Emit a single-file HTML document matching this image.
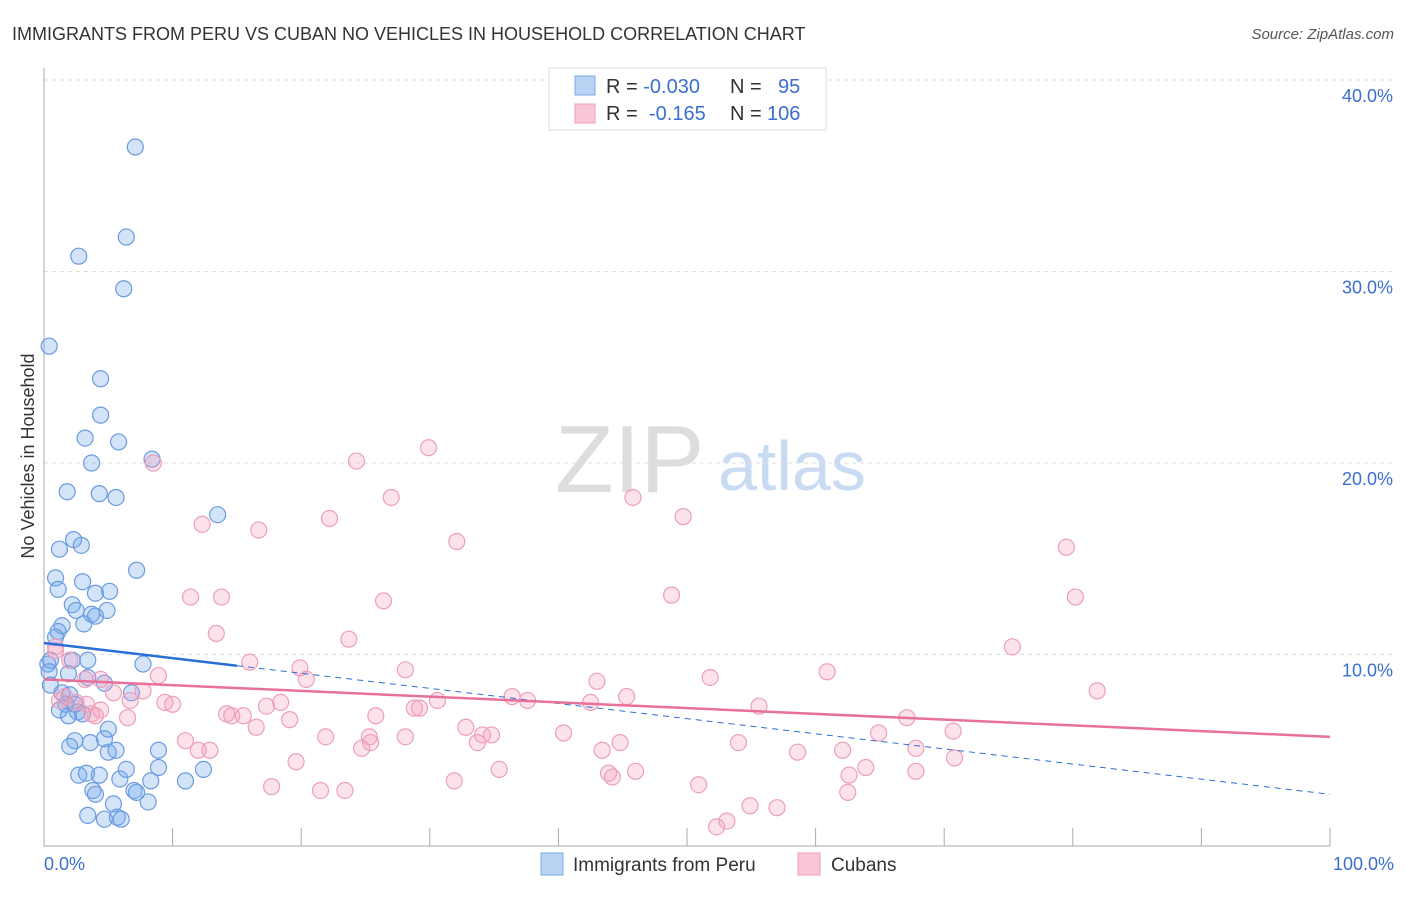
<!DOCTYPE html>
<html><head><meta charset="utf-8"><style>
body{margin:0;background:#fff;font-family:"Liberation Sans",sans-serif;}
svg text{font-family:"Liberation Sans",sans-serif;}
</style></head><body>
<svg id="chart" width="1406" height="892">
<text x="12" y="40" font-size="18" fill="#333">IMMIGRANTS FROM PERU VS CUBAN NO VEHICLES IN HOUSEHOLD CORRELATION CHART</text>
<text x="1394" y="39" font-size="15" fill="#555" text-anchor="end" font-style="italic">Source: ZipAtlas.com</text>
<text x="555" y="492" font-size="96" fill="#ddd" font-family="Liberation Serif">ZIP</text>
<text x="718" y="490" font-size="70" fill="#c9daf3">atlas</text>
<g id="grid"></g><g id="axes"></g><g id="pts"></g><g id="lines"></g>
<text transform="translate(34,456) rotate(-90)" font-size="18" fill="#333" text-anchor="middle">No Vehicles in Household</text>
<text x="44" y="870" font-size="18" fill="#3a6fd0">0.0%</text>
<text x="1394" y="870" font-size="18" fill="#3a6fd0" text-anchor="end">100.0%</text>
<g>
<rect x="549" y="68" width="277" height="62" fill="#fff" stroke="#ddd"/>
<rect x="575" y="76" width="20" height="19" fill="#b9d3f5" stroke="#7fa9e3"/>
<rect x="575" y="104" width="20" height="19" fill="#f9c6d6" stroke="#ee9fb8"/>
<text x="606" y="93" font-size="20" fill="#333">R = <tspan fill="#3a6fd0">-0.030</tspan><tspan x="730">N =</tspan><tspan x="778" fill="#3a6fd0">95</tspan></text>
<text x="606" y="120" font-size="20" fill="#333">R = <tspan x="649" fill="#3a6fd0">-0.165</tspan><tspan x="730">N =</tspan><tspan x="767" fill="#3a6fd0">106</tspan></text>
</g>
<g><rect x="541" y="853" width="22" height="22" fill="#b9d3f5" stroke="#7fa9e3"/><text x="573" y="871" font-size="19" fill="#333">Immigrants from Peru</text></g>
<g><rect x="798" y="853" width="22" height="22" fill="#f9c6d6" stroke="#ee9fb8"/><text x="831" y="871" font-size="19" fill="#333">Cubans</text></g>
</svg>
<script>
const yTicks=[10,20,30,40];
const yTickLabels=["10.0%","20.0%","30.0%","40.0%"];
const xTicks=[10,20,30,40,50,60,70,80,90,100];
const peruX=[7.1,6.4,2.7,6.2,0.4,4.4,4.4,3.2,5.8,3.7,8.4,1.8,4.3,5.6,13.5,2.3,1.2,2.9,7.2,0.9,3.0,1.1,4.0,5.1,2.2,2.5,4.9,3.7,4.0,3.1,1.4,1.1,0.9,0.5,2.2,3.4,0.3,0.4,1.9,7.7,3.4,4.7,0.5,1.4,2.0,6.8,1.7,2.4,1.2,2.6,1.9,3.0,5.0,4.7,2.4,3.6,2.0,5.6,8.9,5.0,8.9,12.4,6.4,2.7,4.3,3.3,5.9,8.3,11.0,3.8,7.0,4.0,7.2,8.1,5.4,3.4,4.7,5.7,6.0];
const peruY=[36.5,31.8,30.8,29.1,26.1,24.4,22.5,21.3,21.1,20.0,20.2,18.5,18.4,18.2,17.3,16.0,15.5,15.7,14.4,14.0,13.8,13.4,13.2,13.3,12.6,12.3,12.3,12.1,12.0,11.6,11.5,11.2,10.9,9.7,9.7,9.7,9.5,9.1,9.0,9.5,8.8,8.5,8.4,8.0,7.9,8.0,7.4,7.4,7.1,7.0,6.8,6.9,6.1,5.6,5.5,5.4,5.2,5.0,5.0,4.9,4.1,4.0,4.0,3.7,3.7,3.8,3.5,3.4,3.4,2.9,2.9,2.7,2.8,2.3,2.2,1.6,1.4,1.5,1.4];
const cubaX=[29.9,24.3,8.5,27.0,45.8,49.7,12.3,22.2,16.7,32.1,79.5,11.4,13.8,26.4,48.8,80.2,13.4,23.7,75.3,0.9,16.0,19.9,28.1,60.9,20.4,8.9,43.0,51.8,5.4,7.7,36.4,45.3,81.9,9.4,10.0,17.3,18.4,37.6,42.5,55.6,28.8,29.2,30.6,6.7,14.2,14.6,15.5,19.1,25.8,67.1,6.5,16.5,32.8,64.9,34.1,21.9,34.8,25.3,28.1,70.7,40.4,11.0,12.9,12.0,24.7,25.4,43.4,54.0,44.8,33.7,67.8,62.1,58.6,70.8,19.6,35.4,63.9,43.9,44.2,46.0,67.8,62.6,31.9,50.9,17.7,21.5,23.4,62.5,54.9,57.0,53.1,52.3,3.3,3.7,1.6,2.5,4.4,4.0,0.9,1.2,4.4,2.0,3.2];
const cubaY=[20.8,20.1,20.0,18.2,18.2,17.2,16.8,17.1,16.5,15.9,15.6,13.0,13.0,12.8,13.1,13.0,11.1,10.8,10.4,10.4,9.6,9.3,9.2,9.1,8.7,8.9,8.6,8.8,8.0,8.1,7.8,7.8,8.1,7.5,7.4,7.3,7.5,7.6,7.5,7.3,7.2,7.2,7.6,7.6,6.9,6.8,6.8,6.6,6.8,6.7,6.7,6.2,6.2,5.9,5.8,5.7,5.8,5.7,5.7,6.0,5.9,5.5,5.0,5.0,5.1,5.4,5.0,5.4,5.4,5.4,5.1,5.0,4.9,4.6,4.4,4.0,4.1,3.8,3.6,3.9,3.9,3.7,3.4,3.2,3.1,2.9,2.9,2.8,2.1,2.0,1.3,1.0,7.4,6.9,7.8,7.5,7.1,6.8,10.2,7.6,8.7,9.7,8.7];
const peruTrend=[10.6,-0.079,15];
const cubaTrend=[8.7,-0.03];
const NS="http://www.w3.org/2000/svg";
const X=v=>44+v*12.86, Y=v=>846-v*19.15;
function mk(p,t,a){const e=document.createElementNS(NS,t);for(const k in a)e.setAttribute(k,a[k]);p.appendChild(e);return e;}
const grid=document.getElementById('grid'),axes=document.getElementById('axes'),pts=document.getElementById('pts'),lines=document.getElementById('lines');
yTicks.forEach((t,i)=>{
 const l=mk(grid,'line',{x1:44,x2:1394,y1:Y(t),y2:Y(t),stroke:'#ddd','stroke-dasharray':'4,4'});
 
 
 const tx=mk(grid,'text',{x:1393,y:Y(t)+22,'font-size':18,fill:'#3a6fd0','text-anchor':'end'});
 tx.textContent=yTickLabels[i];
 
 
});
const ax=mk(axes,'path',{d:'M44 68V846H1330',stroke:'#aaa',fill:'none'});


xTicks.forEach(t=>{
 const l=mk(axes,'line',{x1:X(t),x2:X(t),y1:828,y2:846,stroke:'#aaa'});
 
 
});
peruX.forEach((v,i)=>{
 const c=mk(pts,'circle',{cx:X(v),cy:Y(peruY[i]),r:8,fill:'rgba(110,165,235,0.3)',stroke:'#6a9be0','stroke-width':1.2});
 
 
});
cubaX.forEach((v,i)=>{
 const c=mk(pts,'circle',{cx:X(v),cy:Y(cubaY[i]),r:8,fill:'rgba(245,160,190,0.3)',stroke:'#ec9fb9','stroke-width':1.2});
 
 
});
const pf=x=>peruTrend[0]+peruTrend[1]*x;
const l1=mk(lines,'line',{x1:X(0),y1:Y(pf(0)),x2:X(peruTrend[2]),y2:Y(pf(peruTrend[2])),stroke:'#2a6fd6','stroke-width':2.5});


const l2=mk(lines,'line',{x1:X(peruTrend[2]),y1:Y(pf(peruTrend[2])),x2:X(100),y2:Y(pf(100)),stroke:'#2a6fd6','stroke-width':1,'stroke-dasharray':'6,5'});


const cf=x=>cubaTrend[0]+cubaTrend[1]*x;
const l3=mk(lines,'line',{x1:X(0),y1:Y(cf(0)),x2:X(100),y2:Y(cf(100)),stroke:'#e8719a','stroke-width':2.5});


</script>
</body></html>
